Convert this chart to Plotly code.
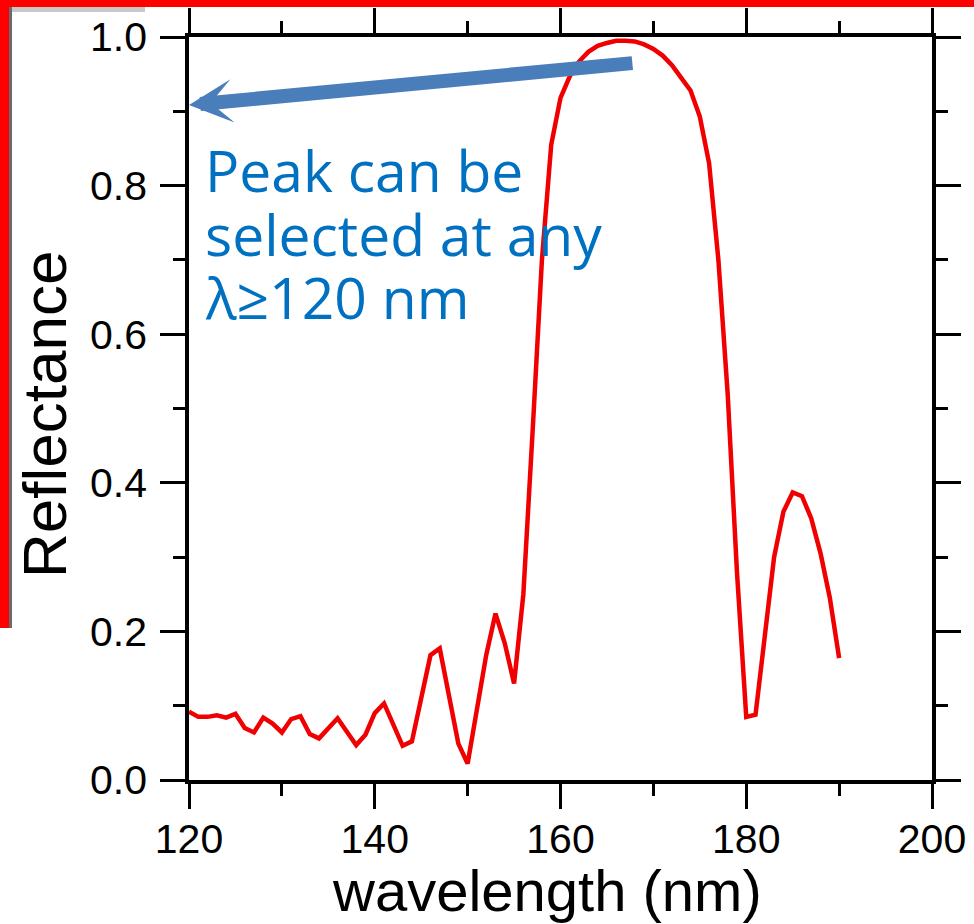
import plotly.graph_objects as go

# ---- data ----
wavelength = list(range(120, 191))
reflectance = [
    0.092, 0.085, 0.085, 0.087, 0.084, 0.089, 0.070, 0.064, 0.084, 0.076,
    0.064, 0.082, 0.086, 0.062, 0.056, 0.070, 0.083, 0.065, 0.047, 0.061,
    0.090, 0.103, 0.076, 0.046, 0.052, 0.112, 0.168, 0.177, 0.112, 0.049,
    0.022, 0.094, 0.168, 0.224, 0.184, 0.130, 0.250, 0.470, 0.700, 0.855,
    0.918, 0.947, 0.967, 0.980, 0.988, 0.992, 0.995, 0.995, 0.994, 0.990,
    0.984, 0.975, 0.962, 0.945, 0.928, 0.893, 0.830, 0.700, 0.520, 0.280,
    0.085, 0.088, 0.195, 0.300, 0.361, 0.387, 0.382, 0.352, 0.305, 0.245,
    0.164,
]
x_ticks = [120, 140, 160, 180, 200]
y_ticks = [0.0, 0.2, 0.4, 0.6, 0.8, 1.0]
note_lines = ["Peak can be", "selected at any", "λ≥120 nm"]
x_title = "wavelength (nm)"
y_title = "Reflectance"

# ---- layout geometry (pixels) ----
W, H = 974, 924
L, R, T, B = 189, 42, 37, 144
PW, PH = W - L - R, H - T - B


def px(xp):
    return (xp - L) / PW


def py(yp):
    return (H - B - yp) / PH


fig = go.Figure()
fig.add_trace(go.Scatter(
    x=wavelength, y=reflectance, mode="lines",
    line=dict(color="#f00000", width=4.5), showlegend=False,
))

axis_common = dict(
    showline=True, linecolor="black", linewidth=3.5,
    mirror="allticks", ticks="outside", ticklen=25, tickwidth=3,
    tickcolor="black", showgrid=False, zeroline=False, automargin=False,
    tickfont=dict(family="Liberation Sans, Arial", size=41, color="black"),
)

fig.update_xaxes(
    range=[120, 200], tickvals=x_ticks, ticktext=[str(v) for v in x_ticks],
    minor=dict(ticks="outside", dtick=10, ticklen=12, tickwidth=3, tickcolor="black"),
    ticklabelstandoff=-5,
    **axis_common,
)
fig.update_yaxes(
    range=[0, 1.0], tickvals=y_ticks, ticktext=[f"{v:.1f}" for v in y_ticks],
    minor=dict(ticks="outside", dtick=0.1, ticklen=12, tickwidth=3, tickcolor="black"),
    ticklabelstandoff=5,
    **axis_common,
)

annotations = []
# blue explanatory text
for i, line in enumerate(note_lines):
    annotations.append(dict(
        xref="paper", yref="paper", x=px(203), y=py(170 + i * 63.5),
        xanchor="left", yanchor="middle", showarrow=False, text=line,
        font=dict(family="Open Sans", size=57, color="#0070C0"),
    ))
# arrow pointing at the left axis
annotations.append(dict(
    x=120, y=0.9085, ax=167.9, ay=0.965, xref="x", yref="y",
    axref="x", ayref="y", text="", showarrow=True, arrowhead=3,
    arrowsize=0.52, arrowwidth=14, arrowcolor="#4a7ebb",
))
# axis titles
annotations.append(dict(
    xref="paper", yref="paper", x=px(547), y=py(890), showarrow=False,
    text=x_title, xanchor="center", yanchor="middle",
    font=dict(family="Liberation Sans, Arial", size=58, color="black"),
))
annotations.append(dict(
    xref="paper", yref="paper", x=px(44), y=py(415), showarrow=False,
    text=y_title, textangle=-90, xanchor="center", yanchor="middle",
    font=dict(family="Liberation Sans, Arial", size=62, color="black"),
))

shapes = [
    dict(type="rect", xref="paper", yref="paper", x0=px(0), x1=px(W), y0=py(0), y1=py(7),
         fillcolor="#ff0000", line=dict(width=0), layer="above"),
    dict(type="rect", xref="paper", yref="paper", x0=px(0), x1=px(9), y0=py(0), y1=py(628),
         fillcolor="#ff0000", line=dict(width=0), layer="above"),
    dict(type="rect", xref="paper", yref="paper", x0=px(9), x1=px(145), y0=py(7), y1=py(12),
         fillcolor="#c8c8c8", line=dict(width=0), layer="above"),
    dict(type="rect", xref="paper", yref="paper", x0=px(9), x1=px(12), y0=py(7), y1=py(628),
         fillcolor="#6a6a6a", line=dict(width=0), layer="above"),
]

fig.update_layout(
    width=W, height=H, margin=dict(l=L, r=R, t=T, b=B),
    paper_bgcolor="white", plot_bgcolor="white",
    annotations=annotations, shapes=shapes, showlegend=False,
)

fig.write_html(
    "out.html",
    config={"displayModeBar": False},
    post_script="document.body.style.margin='0';document.body.style.overflow='hidden';",
)
